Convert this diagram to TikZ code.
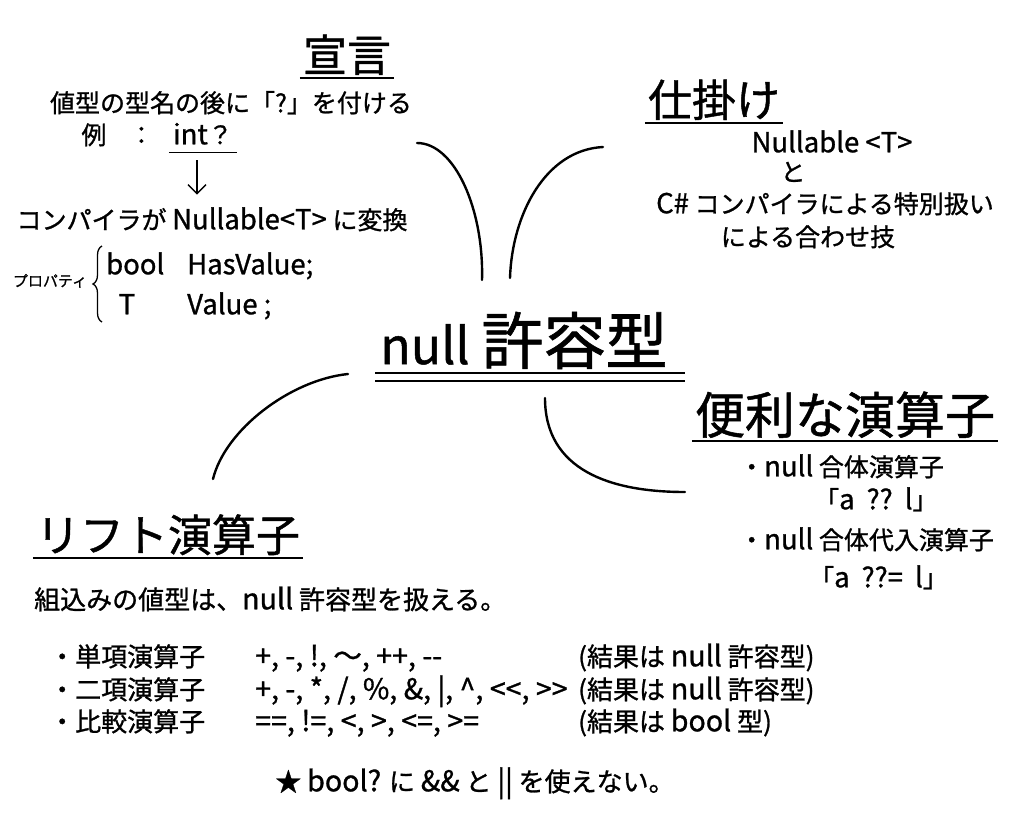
\documentclass[tikz,border=0pt]{standalone}
\usepackage{fontspec}
\newfontfamily\jpfont[FakeBold=1]{Noto Sans CJK JP}
\newfontfamily\latfont[FakeBold=1,Scale=1.1]{Noto Sans CJK JP}
\newcommand\lt[1]{{\latfont #1}}
\usetikzlibrary{arrows.meta,positioning,decorations.pathreplacing}
\tikzset{
  txt/.style={font=\jpfont\fontsize{25}{29}\selectfont,inner sep=0pt,text height=20.5pt,text depth=2pt},
  rowtxt/.style={txt,font=\jpfont\fontsize{26}{30}\selectfont,anchor=west},
  headline/.style={font=\jpfont\fontsize{44}{50}\selectfont,inner xsep=3pt,inner ysep=2.5pt,text height=37pt,text depth=4pt},
  tinytxt/.style={txt,font=\jpfont\fontsize{15}{18}\selectfont,text height=12.5pt,text depth=1.5pt},
  uline/.style={line width=1.6pt},
  branch/.style={line width=2.4pt,line cap=round},
  arrow/.style={-{Straight Barb[length=9pt,width=18pt,line width=1.3pt]},line width=1.3pt}
}
\begin{document}
\begin{tikzpicture}[x=1pt,y=-1pt]
  \useasboundingbox[fill=white] (0,0) rectangle (1024,819);

  % centre
  \node[inner sep=0pt,text height=47pt,text depth=5pt] (root) at (524,343)
    {\jpfont\fontsize{50}{56}\selectfont null\kern12pt\fontsize{62}{66}\selectfont 許容型};
  \draw[uline] (375,373) -- (685,373);
  \draw[uline] (375,381) -- (685,381);

  % 宣言
  \node[headline] (decl) at (347,55) {宣言};
  \draw[uline] (decl.south west) -- (decl.south east);
  \node[txt] (declA) at (231,103) {値型の型名の後に「?」を付ける};
  \node[txt] (ex) at (94,135) {例};
  \node[txt,right=22pt of ex] (colon) {：};
  \node[txt,inner xsep=4pt,inner ysep=6pt] (exint) at (203,135) {\lt{int}？};
  \draw[uline] (exint.south west) -- (exint.south east);
  \node[txt] (conv) at (212,220) {コンパイラが \lt{Nullable<T>} に変換};
  \draw[arrow] ([shift={(-6,8)}]exint.south) -- ([shift={(-15,-14)}]conv.north);
  \node[txt,anchor=west] (pbool) at (106,265) {\lt{bool}};
  \node[txt,anchor=west] (phas) at (187,265) {\lt{HasValue;}};
  \node[txt] (pt) at (127,305) {\lt{T}};
  \node[txt,anchor=west] (pval) at (187,305) {\lt{Value ;}};
  \draw[line width=1.3pt,decorate,decoration={brace,amplitude=9pt}] (102,322) -- (102,246);
  \node[tinytxt] (prop) at (50,281) {プロパティ};

  % 仕掛け
  \node[headline] (mech) at (714,100) {仕掛け};
  \draw[uline] (mech.south west) -- (mech.south east);
  \node[txt] (mechA) at (832,143) {\lt{Nullable <T>}};
  \node[txt] (mechB) at (793,172) {と};
  \node[txt] (mechC) at (825,204) {\lt{C\#} コンパイラによる特別扱い};
  \node[txt] (mechD) at (808,237) {による合わせ技};

  % 便利な演算子
  \node[headline,font=\jpfont\fontsize{50}{56}\selectfont,text height=42pt,text depth=4.5pt] (ops) at (845,415) {便利な演算子};
  \draw[uline] (ops.south west) -- (ops.south east);
  \node[txt,anchor=west] (opsA) at (739,467) {・\lt{null} 合体演算子};
  \node[txt,anchor=west] (opsB) at (814,500) {「\lt{a\hspace{12pt}??\hspace{12pt}l}」};
  \node[txt,anchor=west] (opsC) at (739,540) {・\lt{null} 合体代入演算子};
  \node[txt,anchor=west] (opsD) at (809,578) {「\lt{a\hspace{12pt}??=\hspace{12pt}l}」};

  % リフト演算子
  \node[headline] (lift) at (168,535) {リフト演算子};
  \draw[uline] (lift.south west) -- (lift.south east);
  \node[rowtxt] (liftA) at (34,600) {組込みの値型は、\lt{null} 許容型を扱える。};
  \node[rowtxt] (un) at (49,657) {・単項演算子};
  \node[rowtxt] (unop) at (255,657) {\lt{+, -, !, ～, ++, -{}-}};
  \node[rowtxt] (unres) at (578,657) {(結果は \lt{null} 許容型)};
  \node[rowtxt] (bin) at (49,690) {・二項演算子};
  \node[rowtxt] (binop) at (255,690) {\lt{+, -, *, /, \%, \&, |, \^{}, <<, >>}};
  \node[rowtxt] (binres) at (578,690) {(結果は \lt{null} 許容型)};
  \node[rowtxt] (cmp) at (49,722) {・比較演算子};
  \node[rowtxt] (cmpop) at (255,722) {\lt{==, !=, <, >, <=, >=}};
  \node[rowtxt] (cmpres) at (578,722) {(結果は \lt{bool} 型)};
  \node[txt,font=\jpfont\fontsize{26}{30}\selectfont] (note) at (475,782) {★ \lt{bool?} に \lt{\&\&} と \lt{||} を使えない。};

  % branches
  \coordinate (b1s) at (417,143);
  \coordinate (b1e) at (482,280);
  \coordinate (b2s) at (510,278);
  \coordinate (b2e) at (603,147);
  \coordinate (b3s) at (348,374);
  \coordinate (b3e) at (213,479);
  \coordinate (b4s) at (545,398);
  \coordinate (b4e) at (685,492);
  \draw[branch] (b1s) .. controls (455,143) and (484,210) .. (b1e);
  \draw[branch] (b2s) .. controls (512,215) and (545,150) .. (b2e);
  \draw[branch] (b3s) .. controls (290,380) and (225,430) .. (b3e);
  \draw[branch] (b4s) .. controls (545,470) and (610,492) .. (b4e);
\end{tikzpicture}
\end{document}
